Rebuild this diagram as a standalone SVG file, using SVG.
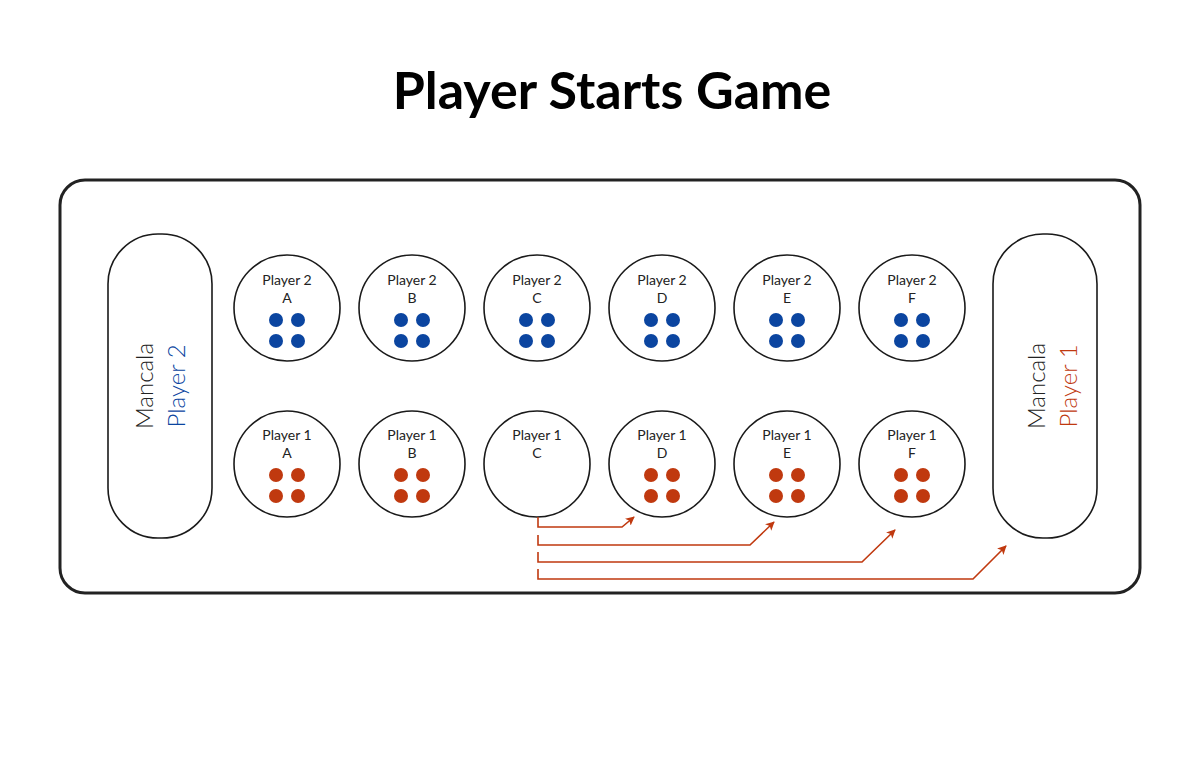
<svg xmlns="http://www.w3.org/2000/svg" width="1200" height="773" viewBox="0 0 1200 773">
<style>
.title{font-family:"Lato","Liberation Sans",sans-serif;font-weight:bold;font-size:52px;fill:#000;text-anchor:middle}
.lbl{font-family:"Lato","Liberation Sans",sans-serif;font-size:14px;fill:#222;text-anchor:middle}
.mlbl{font-family:"Lato","Liberation Sans",sans-serif;font-size:24px;font-weight:300;text-anchor:middle}
.pit{fill:#fff;stroke:#1a1a1a;stroke-width:1.6}
.b{fill:#0b45a0}
.r{fill:#c0390f}
.arr{fill:none;stroke:#c0390f;stroke-width:1.6;marker-end:url(#ah)}
</style>
<defs>
<marker id="ah" viewBox="0 0 10 10" refX="9" refY="5" markerWidth="9" markerHeight="9" markerUnits="userSpaceOnUse" orient="auto">
<path d="M0,0 L10,5 L0,10 L2.5,5 Z" fill="#c0390f"/>
</marker>
<g id="b4"><circle cx="-11" cy="12" r="7" class="b"/><circle cx="11" cy="12" r="7" class="b"/><circle cx="-11" cy="33" r="7" class="b"/><circle cx="11" cy="33" r="7" class="b"/></g>
<g id="r4"><circle cx="-11" cy="11" r="7" class="r"/><circle cx="11" cy="11" r="7" class="r"/><circle cx="-11" cy="32" r="7" class="r"/><circle cx="11" cy="32" r="7" class="r"/></g>
</defs>
<rect width="1200" height="773" fill="#fff"/>
<text class="title" x="612" y="109">Player Starts Game</text>
<g id="board"><rect x="60" y="180" width="1080" height="413" rx="25" fill="#fff" stroke="#222" stroke-width="3"/></g>
<g id="mancala2"><rect x="108" y="234" width="104" height="304" rx="50" class="pit"/>
<text class="mlbl" transform="translate(153,386) rotate(-90)" fill="#222">Mancala</text>
<text class="mlbl" transform="translate(185,386) rotate(-90)" fill="#0b45a0">Player 2</text></g>
<g id="mancala1"><rect x="993" y="234" width="104" height="304" rx="50" class="pit"/>
<text class="mlbl" transform="translate(1045,386) rotate(-90)" fill="#222">Mancala</text>
<text class="mlbl" transform="translate(1077,386) rotate(-90)" fill="#c0390f">Player 1</text></g>
<g id="p2a"><circle cx="287" cy="308" r="53" class="pit"/><text class="lbl" x="287" y="285">Player 2</text><text class="lbl" x="287" y="303">A</text><use href="#b4" x="287" y="308"/></g>
<g id="p2b"><circle cx="412" cy="308" r="53" class="pit"/><text class="lbl" x="412" y="285">Player 2</text><text class="lbl" x="412" y="303">B</text><use href="#b4" x="412" y="308"/></g>
<g id="p2c"><circle cx="537" cy="308" r="53" class="pit"/><text class="lbl" x="537" y="285">Player 2</text><text class="lbl" x="537" y="303">C</text><use href="#b4" x="537" y="308"/></g>
<g id="p2d"><circle cx="662" cy="308" r="53" class="pit"/><text class="lbl" x="662" y="285">Player 2</text><text class="lbl" x="662" y="303">D</text><use href="#b4" x="662" y="308"/></g>
<g id="p2e"><circle cx="787" cy="308" r="53" class="pit"/><text class="lbl" x="787" y="285">Player 2</text><text class="lbl" x="787" y="303">E</text><use href="#b4" x="787" y="308"/></g>
<g id="p2f"><circle cx="912" cy="308" r="53" class="pit"/><text class="lbl" x="912" y="285">Player 2</text><text class="lbl" x="912" y="303">F</text><use href="#b4" x="912" y="308"/></g>
<g id="p1a"><circle cx="287" cy="464" r="53" class="pit"/><text class="lbl" x="287" y="440">Player 1</text><text class="lbl" x="287" y="458">A</text><use href="#r4" x="287" y="464"/></g>
<g id="p1b"><circle cx="412" cy="464" r="53" class="pit"/><text class="lbl" x="412" y="440">Player 1</text><text class="lbl" x="412" y="458">B</text><use href="#r4" x="412" y="464"/></g>
<g id="p1c"><circle cx="537" cy="464" r="53" class="pit"/><text class="lbl" x="537" y="440">Player 1</text><text class="lbl" x="537" y="458">C</text></g>
<g id="p1d"><circle cx="662" cy="464" r="53" class="pit"/><text class="lbl" x="662" y="440">Player 1</text><text class="lbl" x="662" y="458">D</text><use href="#r4" x="662" y="464"/></g>
<g id="p1e"><circle cx="787" cy="464" r="53" class="pit"/><text class="lbl" x="787" y="440">Player 1</text><text class="lbl" x="787" y="458">E</text><use href="#r4" x="787" y="464"/></g>
<g id="p1f"><circle cx="912" cy="464" r="53" class="pit"/><text class="lbl" x="912" y="440">Player 1</text><text class="lbl" x="912" y="458">F</text><use href="#r4" x="912" y="464"/></g>
<g id="connectors">
<path class="arr" d="M538,517 V527 H622 L634,517"/>
<path class="arr" d="M538,535 V545 H750 L774,522"/>
<path class="arr" d="M538,552 V562 H862 L895,530"/>
<path class="arr" d="M538,569 V579 H973 L1006,546"/>
</g>
</svg>
